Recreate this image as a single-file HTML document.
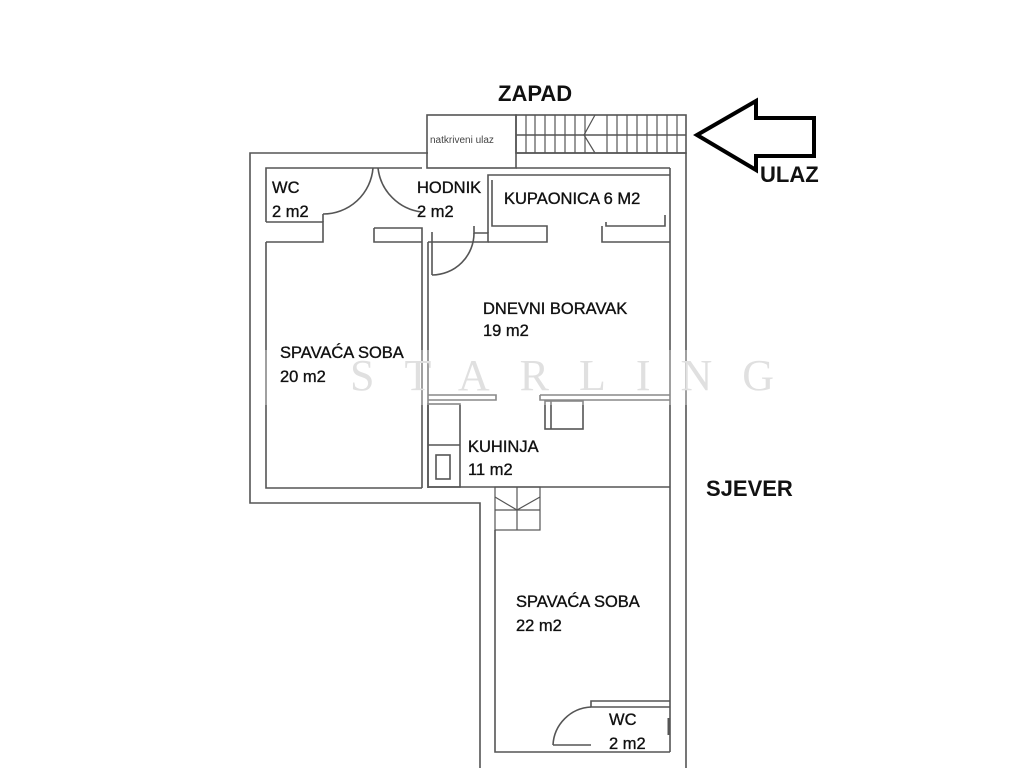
<!DOCTYPE html>
<html><head><meta charset="utf-8"><style>
html,body{margin:0;padding:0;background:#fff;width:1024px;height:768px;overflow:hidden}
svg{display:block}
text{font-family:"Liberation Sans",Arial,sans-serif;fill:#111}
</style></head><body>
<svg width="1024" height="768" viewBox="0 0 1024 768" xmlns="http://www.w3.org/2000/svg">
<g fill="none" stroke="#555" stroke-width="1.6">
<polyline points="428,153 250,153 250,503 480,503 480,768"/>
<polyline points="516,153 686,153 686,768"/>
<polyline points="266,222 266,168 422,168"/>
<polyline points="266,242 266,488 422,488"/>
<rect x="427" y="115" width="89" height="53"/>
<rect x="516" y="115" width="170" height="38"/>
<line x1="516" y1="135" x2="686" y2="135"/>
<g stroke-width="1.2">
<line x1="526" y1="115" x2="526" y2="153"/><line x1="535" y1="115" x2="535" y2="153"/>
<line x1="545" y1="115" x2="545" y2="153"/><line x1="555" y1="115" x2="555" y2="153"/>
<line x1="565" y1="115" x2="565" y2="153"/><line x1="575" y1="115" x2="575" y2="153"/>
<line x1="585" y1="115" x2="585" y2="153"/><line x1="607" y1="115" x2="607" y2="153"/>
<line x1="617" y1="115" x2="617" y2="153"/><line x1="627" y1="115" x2="627" y2="153"/>
<line x1="637" y1="115" x2="637" y2="153"/><line x1="647" y1="115" x2="647" y2="153"/>
<line x1="657" y1="115" x2="657" y2="153"/><line x1="667" y1="115" x2="667" y2="153"/>
<line x1="677" y1="115" x2="677" y2="153"/>
<polyline points="595,115 584,135 595,153"/>
</g>
<line x1="516" y1="168" x2="670" y2="168"/>
<line x1="670" y1="168" x2="670" y2="752"/>
<polyline points="266,222 323,222 323,242 266,242"/>
<path d="M323,214 A50,50 0 0 0 373,168"/>
<line x1="323" y1="214" x2="323" y2="222"/>
<path d="M378,168 A50,50 0 0 0 422,212"/>
<polyline points="374,228 422,228 422,488"/>
<polyline points="374,228 374,242 422,242"/>
<line x1="428" y1="242" x2="428" y2="488"/>
<path d="M432,275 A42,42 0 0 0 474,233"/>
<line x1="432" y1="232" x2="432" y2="275"/>
<polyline points="474,226 474,233 488,233 488,242 428,242"/>
<polyline points="488,233 488,175 670,175"/>
<polyline points="488,242 547,242 547,226 492,226 492,180"/>
<polyline points="602,226 602,242 670,242"/>
<polyline points="606,222 606,226 665,226 665,215"/>
<polyline points="428,395 496,395 496,400 428,400"/>
<polyline points="540,395 670,395"/>
<polyline points="540,395 540,400 670,400"/>
<rect x="545" y="401" width="38" height="28"/>
<line x1="551" y1="401" x2="551" y2="429"/>
<rect x="428" y="404" width="32" height="83"/>
<line x1="428" y1="445" x2="460" y2="445"/>
<rect x="436" y="455" width="14" height="24"/>
<line x1="428" y1="487" x2="670" y2="487"/>
<rect x="495" y="487" width="45" height="43" stroke-width="1.2"/>
<line x1="517" y1="487" x2="517" y2="530" stroke-width="1.2"/>
<line x1="495" y1="510" x2="540" y2="510" stroke-width="1.2"/>
<polyline points="495,497 517,510 540,497" stroke-width="1.2"/>
<polyline points="495,530 495,752 670,752"/>
<polyline points="670,701 591,701 591,707 670,707"/>
<path d="M591,707 A40,40 0 0 0 553,745"/>
<line x1="553" y1="745" x2="591" y2="745"/>
<line x1="669" y1="718" x2="669" y2="735" stroke-width="3"/>
</g>
<rect x="255" y="350" width="515" height="55" fill="#fff" opacity="0.3"/>
<text x="350" y="390" style="font-family:'Liberation Serif',serif;fill:#e0e0e0;font-size:44px;letter-spacing:30px">STARLING</text>
<polygon points="697,135 756,101 756,118 814,118 814,156 756,156 756,170" fill="none" stroke="#000" stroke-width="4" stroke-linejoin="miter"/>
<text x="498" y="101" font-size="22" font-weight="bold">ZAPAD</text>
<text x="760" y="182" font-size="22" font-weight="bold">ULAZ</text>
<text x="706" y="496" font-size="22" font-weight="bold">SJEVER</text>
<text x="430" y="143" font-size="10" style="fill:#444">natkriveni ulaz</text>
<g font-size="16.5" stroke="#111" stroke-width="0.35">
<text x="272" y="193">WC</text><text x="272" y="217">2 m2</text>
<text x="417" y="193">HODNIK</text><text x="417" y="217">2 m2</text>
<text x="504" y="204">KUPAONICA 6 M2</text>
<text x="483" y="314">DNEVNI BORAVAK</text><text x="483" y="336">19 m2</text>
<text x="280" y="358">SPAVAĆA SOBA</text><text x="280" y="382">20 m2</text>
<text x="468" y="452">KUHINJA</text><text x="468" y="475">11 m2</text>
<text x="516" y="607">SPAVAĆA SOBA</text><text x="516" y="631">22 m2</text>
<text x="609" y="725">WC</text><text x="609" y="749">2 m2</text>
</g>
</svg>
</body></html>
